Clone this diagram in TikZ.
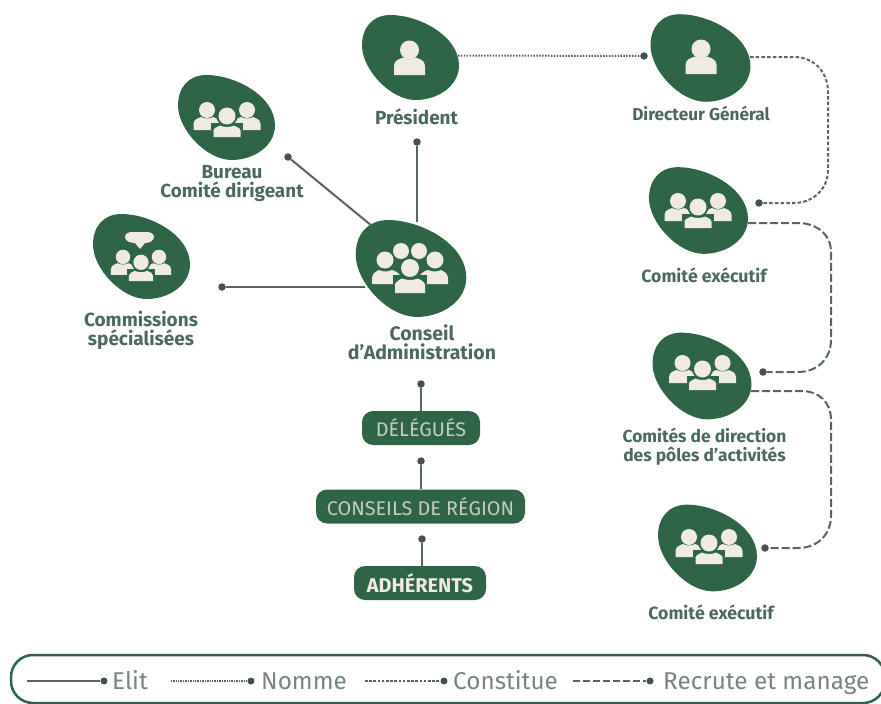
\documentclass[tikz,border=0pt]{standalone}
\usepackage{fontspec}
\setmainfont{Fira Sans}
\definecolor{gr}{HTML}{2F6547}
\definecolor{cream}{HTML}{EFEBE0}
\definecolor{lab}{HTML}{4C6A5B}
\definecolor{ln}{HTML}{56675F}
\newcommand{\blobshape}[4]{% name, cx, cy, scale
  \begin{scope}[shift={(#2,#3)},scale=#4]
  \fill[gr] (-20,-42.5) .. controls (8,-42.5) and (48.5,-22) .. (48.5,8)
     .. controls (48.5,28) and (28,42.5) .. (5,42.5)
     .. controls (-20,42.5) and (-48.5,12) .. (-48.5,-12)
     .. controls (-48.5,-30) and (-38,-42.5) .. (-20,-42.5) -- cycle;
  \end{scope}
  \coordinate (#1) at (#2,#3);
}
\newcommand{\onep}[3]{% cx cy scale: person
  \begin{scope}[shift={(#1,#2)},scale=#3]
  \fill[cream] (0,-10) circle (9.5);
  \fill[cream] (-15.5,15) -- (-15.5,6) .. controls (-15.5,0) and (-10,-1) .. (-6,-2.5) .. controls (-3,0) and (3,0) .. (6,-2.5) .. controls (10,-1) and (15.5,0) .. (15.5,6) -- (15.5,15) -- cycle;
  \end{scope}
}
\newcommand{\threep}[3]{% cx cy scale: three people
  \begin{scope}[shift={(#1,#2)},scale=#3]
  \fill[cream] (-20,-9) circle (8); \fill[cream] (20,-9) circle (8);
  \fill[cream] (-33.5,11) -- (-33.5,5) .. controls (-33.5,0) and (-28,-1) .. (-26,-2) .. controls (-23,0) and (-17,0) .. (-14,-2) .. controls (-10,-1) and (-9,1) .. (-8,3) -- (-8,11) -- cycle;
  \fill[cream] (33.5,11) -- (33.5,5) .. controls (33.5,0) and (28,-1) .. (26,-2) .. controls (23,0) and (17,0) .. (14,-2) .. controls (10,-1) and (9,1) .. (8,3) -- (8,11) -- cycle;
  \fill[gr] (0,-3) circle (10.5); \fill[gr] (-16,4) rectangle (16,11);
  \fill[cream] (0,-3) circle (8.5);
  \fill[cream] (-13.5,18) -- (-13.5,12) .. controls (-13.5,9) and (-10,8) .. (-7,6.5) .. controls (-3,8.5) and (3,8.5) .. (7,6.5) .. controls (10,8) and (13.5,9) .. (13.5,12) -- (13.5,18) -- cycle;
  \end{scope}
}
\newcommand{\fivep}[2]{% cx cy: five people
  \begin{scope}[shift={(#1,#2)}]
  \fill[cream] (-9,-24) circle (8); \fill[cream] (9,-24) circle (8);
  \fill[gr] (-25,-15) circle (10); \fill[gr] (25,-15) circle (10);
  \fill[cream] (-25,-15) circle (8.5); \fill[cream] (25,-15) circle (8.5);
  \fill[cream] (-38,9) -- (-38,3) .. controls (-38,-2) and (-33,-4) .. (-31,-5) .. controls (-28,-3) and (-22,-3) .. (-18,-5) .. controls (-14,-4) and (-12,-2) .. (-10,0) -- (-10,9) -- cycle;
  \fill[cream] (38,9) -- (38,3) .. controls (38,-2) and (33,-4) .. (31,-5) .. controls (28,-3) and (22,-3) .. (18,-5) .. controls (14,-4) and (12,-2) .. (10,0) -- (10,9) -- cycle;
  \fill[gr] (0,-7) circle (11); \fill[gr] (-17,0) rectangle (17,9);
  \fill[cream] (0,-7) circle (9);
  \fill[cream] (-15,18) -- (-15,10) .. controls (-15,7) and (-11,5) .. (-8,3.5) .. controls (-3,5.5) and (3,5.5) .. (8,3.5) .. controls (11,5) and (15,7) .. (15,10) -- (15,18) -- cycle;
  \end{scope}
}
\tikzset{
 lbl/.style={text=lab,align=center,inner sep=0pt},
 boxn/.style={fill=gr,rounded corners=11pt,minimum height=34pt,text=cream!78!gr,inner sep=0pt,font=\fontsize{19.8}{20}\selectfont},
 elit/.style={draw=ln,line width=2pt},
 nomme/.style={draw=ln,line width=2pt,dash pattern=on 1.5pt off 1.4pt},
 const/.style={draw=ln,line width=2pt,dash pattern=on 3.5pt off 2.2pt},
 recr/.style={draw=ln,line width=2pt,dash pattern=on 8pt off 3pt},
 dotn/.style={circle,fill=ln!80!black,inner sep=0pt,minimum size=7.5pt},
 legdot/.style={circle,fill=ln!80!black,inner sep=0pt,minimum size=7pt},
 legt/.style={text=ln!80!white,inner sep=0pt,anchor=base west,font=\fontsize{24.3}{25}\selectfont},
}
\begin{document}
\begin{tikzpicture}[x=1pt,y=-1pt]
\useasboundingbox (0,0) rectangle (881,704);
% blobs
\blobshape{bpres}{410.5}{57.5}{1}
\blobshape{bdir}{700.5}{58}{1.03}
\blobshape{bbur}{226.5}{117.5}{1}
\blobshape{bcom}{141.5}{256.5}{1}
\blobshape{bca}{411}{268.5}{1.14}
\blobshape{bce}{698.5}{210.5}{1.02}
\blobshape{bcd}{702}{376}{1.02}
\blobshape{bce2}{707.5}{548}{1.02}
% icons
\onep{409.5}{60}{1}
\onep{701}{59}{1}
\threep{227}{119}{1}
\threep{141}{265}{0.9}
\fivep{410}{275}
\threep{698}{210}{1}
\threep{702.5}{372}{1}
\threep{709}{546}{1}
% chat bubble
\fill[cream] (125,237) .. controls (125,233) and (129,232) .. (133,232) -- (146,232) .. controls (150,232) and (154,233) .. (154,237) .. controls (154,241) and (149,243) .. (145,243) -- (140,249) -- (135,243) .. controls (130,243) and (125,241) .. (125,237) -- cycle;
% labels
\node[lbl,font=\bfseries\fontsize{18.9}{19}\selectfont] (lpres) at (416.5,117) {Président};
\node[lbl,font=\bfseries\fontsize{17.2}{17}\selectfont] (ldir) at (701,113) {Directeur Général};
\node[lbl,font=\bfseries\fontsize{18.9}{19}\selectfont] (lbur) at (232,184) {Bureau\\Comité dirigeant};
\node[lbl,font=\bfseries\fontsize{19}{19}\selectfont] (lcom) at (141,330.5) {Commissions\\spécialisées};
\node[lbl,font=\bfseries\fontsize{19.5}{19}\selectfont] (lca) at (422,342.5) {Conseil\\d’Administration};
\node[lbl,font=\bfseries\fontsize{17.7}{18}\selectfont] (lce) at (704,275) {Comité exécutif};
\node[lbl,font=\bfseries\fontsize{17.4}{19}\selectfont] (lcd) at (704.5,447) {Comités de direction\\des pôles d’activités};
\node[lbl,font=\bfseries\fontsize{17.7}{18}\selectfont] (lce2) at (711,612) {Comité exécutif};
% boxes
\node[boxn,minimum width=118pt] (del) at (421,428) {DÉLÉGUÉS};
\node[boxn,minimum width=209pt] (creg) at (420.5,506.5) {CONSEILS DE RÉGION};
\node[boxn,minimum width=132pt,text=cream,font=\bfseries\fontsize{19.9}{20}\selectfont] (adh) at (420,583) {ADHÉRENTS};
% dots
\node[dotn] (d1) at (421,384) {};
\node[dotn] (d2) at (421,461) {};
\node[dotn] (d3) at (422,539) {};
\node[dotn] (d4) at (417,142) {};
\node[dotn] (d5) at (288,157) {};
\node[dotn] (d6) at (222,287) {};
\node[dotn] (d7) at (644,56) {};
\node[dotn] (d8) at (759,203) {};
\node[dotn] (d9) at (763,372) {};
\node[dotn] (d10) at (765,548) {};
% connector start points
\coordinate (s4) at (417,222);
\coordinate (s5) at (372,226);
\coordinate (s6) at (365,287);
\coordinate (s7) at (458,55.5);
\coordinate (s8) at (750,57);
\coordinate (s9) at (748,223);
\coordinate (s10) at (751,391);
\draw[elit] (del.north -| d1) -- (d1);
\draw[elit] (creg.north -| d2) -- (d2);
\draw[elit] (adh.north -| d3) -- (d3);
\draw[elit] (s4) -- (d4);
\draw[elit] (s5) -- (d5);
\draw[elit] (s6) -- (d6);
\draw[nomme] (s7) -- (d7);
\draw[const] (s8) -- ++(44,0) .. controls +(20,0) and (828,72) .. (828,92) -- (828,170) .. controls (828,190) and (812,203) .. (794,203) -- (d8);
\draw[recr] (s9) -- ++(50,0) .. controls +(18,0) and (831,234) .. (831,252) -- (831,340) .. controls (831,358) and (818,372) .. (798,372) -- (d9);
\draw[recr] (s10) -- ++(50,0) .. controls +(18,0) and (831,402) .. (831,420) -- (831,516) .. controls (831,534) and (818,548) .. (798,548) -- (d10);
% legend
\node[draw=gr,line width=2.5pt,rounded corners=22pt,minimum width=874pt,minimum height=48pt,inner sep=0pt] (legbox) at (448,679) {};
\node[legdot] (l1) at (104,681) {};
\coordinate (l1s) at (27,681);
\draw[elit] (l1s) -- (l1);
\node[legt] (t1) at (112,689.5) {Elit};
\node[legdot] (l2) at (251,681) {};
\coordinate (l2s) at (171,681);
\draw[draw=ln,line width=1.4pt,dash pattern=on 0.9pt off 0.8pt] (l2s) -- (l2);
\node[legt] (t2) at (261,689.5) {Nomme};
\node[legdot] (l3) at (444,681) {};
\coordinate (l3s) at (365,681);
\draw[draw=ln,line width=1.6pt,dash pattern=on 2.6pt off 1.6pt] (l3s) -- (l3);
\node[legt] (t3) at (453,689.5) {Constitue};
\node[legdot] (l4) at (650,681) {};
\coordinate (l4s) at (573,681);
\draw[draw=ln,line width=1.6pt,dash pattern=on 7pt off 3pt] (l4s) -- (l4);
\node[legt] (t4) at (663,689.5) {Recrute et manage};
\end{tikzpicture}
\end{document}
